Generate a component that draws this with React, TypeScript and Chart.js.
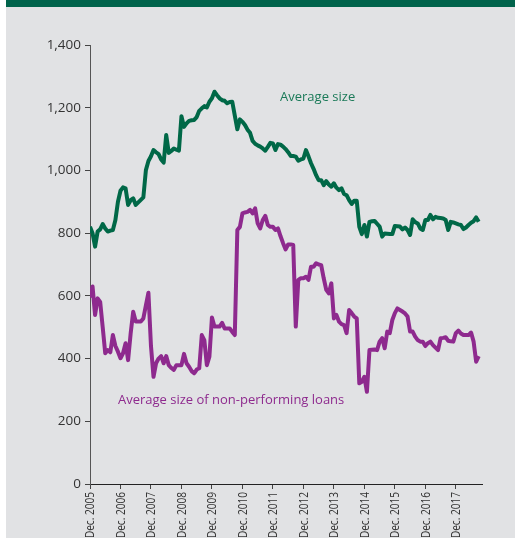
import React, { useEffect, useRef } from "react";
import { Chart, registerables } from "chart.js";

Chart.register(...registerables);

// Month index 0 = Dec. 2005, monthly through Sep. 2018
const tickLabels = [
  "Dec. 2005", "Dec. 2006", "Dec. 2007", "Dec. 2008", "Dec. 2009", "Dec. 2010",
  "Dec. 2011", "Dec. 2012", "Dec. 2013", "Dec. 2014", "Dec. 2015", "Dec. 2016", "Dec. 2017",
];

const averageSize = [
  820, 800, 757, 805, 812, 829, 815, 805, 808, 810, 842, 900,
  935, 946, 943, 890, 905, 911, 890, 898, 906, 914, 1001, 1030,
  1045, 1065, 1058, 1052, 1035, 1025, 1113, 1056, 1062, 1070, 1066, 1063,
  1173, 1139, 1150, 1158, 1160, 1161, 1170, 1190, 1198, 1205, 1201, 1219,
  1230, 1251, 1240, 1230, 1224, 1222, 1214, 1218, 1219, 1175, 1131, 1163,
  1155, 1145, 1130, 1120, 1094, 1085, 1080, 1076, 1070, 1063, 1075, 1088,
  1086, 1065, 1084, 1082, 1076, 1068, 1058, 1046, 1046, 1044, 1031, 1035,
  1038, 1065, 1045, 1023, 1005, 985, 969, 969, 953, 966, 955, 948,
  959, 945, 937, 943, 925, 921, 905, 893, 903, 903, 820, 797,
  826, 789, 836, 838, 839, 830, 821, 789, 799, 798, 797, 797,
  823, 822, 821, 812, 818, 810, 794, 844, 835, 831, 815, 810,
  842, 842, 858, 844, 852, 849, 848, 847, 842, 810, 836, 834,
  831, 828, 826, 813, 818, 826, 833, 838, 850, 836,
];

const averageSizeNPL = [
  595, 630, 539, 592, 581, 500, 417, 427, 420, 475, 440, 422,
  401, 417, 449, 395, 480, 549, 518, 518, 518, 528, 570, 610,
  440, 342, 385, 400, 408, 385, 408, 379, 370, 364, 379, 379,
  379, 415, 385, 374, 360, 353, 365, 369, 475, 459, 379, 406,
  531, 502, 502, 502, 514, 496, 496, 496, 485, 475, 810, 820,
  863, 866, 868, 874, 863, 879, 831, 815, 842, 855, 826, 820,
  820, 810, 815, 790, 768, 748, 764, 764, 762, 502, 651, 656,
  656, 661, 651, 693, 693, 704, 700, 698, 656, 619, 608, 640,
  528, 539, 518, 510, 507, 481, 555, 545, 534, 528, 321, 326,
  342, 294, 427, 428, 429, 427, 454, 465, 433, 486, 481, 523,
  545, 560, 555, 550, 544, 534, 486, 486, 470, 459, 454, 454,
  440, 449, 454, 443, 435, 427, 465, 466, 468, 457, 455, 454,
  481, 489, 480, 475, 475, 475, 483, 454, 390, 408,
];

const seriesNames = ["Average size", "Average size of non-performing loans"];
const yTicks = [0, 200, 400, 600, 800, 1000, 1200, 1400];

const GREEN = "#006847";
const PURPLE = "#8e2a8e";
const FONT = "'Open Sans', 'Noto Sans', sans-serif";

const labelPlugin = {
  id: "seriesLabels",
  afterDatasetsDraw(chart: any) {
    const { ctx, scales } = chart;
    const xs = scales.x;
    const ys = scales.y;
    ctx.save();
    ctx.font = `13px ${FONT}`;
    ctx.textBaseline = "middle";
    ctx.textAlign = "left";
    ctx.fillStyle = "#1b7a58";
    ctx.fillText(seriesNames[0], xs.getPixelForValue(74.8), ys.getPixelForValue(1233));
    ctx.fillStyle = PURPLE;
    ctx.fillText(seriesNames[1], xs.getPixelForValue(11), ys.getPixelForValue(267));
    ctx.restore();
  },
};

// Condensed, rotated x tick labels drawn at the library's tick positions
const xLabelPlugin = {
  id: "condensedXLabels",
  afterDraw(chart: any) {
    const { ctx, scales, chartArea } = chart;
    const xs = scales.x;
    ctx.save();
    ctx.font = `12px ${FONT}`;
    ctx.fillStyle = "#333";
    ctx.textAlign = "right";
    ctx.textBaseline = "middle";
    xs.ticks.forEach((t: any, i: number) => {
      const px = xs.getPixelForValue(t.value);
      ctx.save();
      ctx.translate(px + 1, chartArea.bottom + 8);
      ctx.rotate(-Math.PI / 2);
      ctx.scale(0.84, 1);
      ctx.fillText(tickLabels[i] ?? "", 0, 0);
      ctx.restore();
    });
    ctx.restore();
  },
};

export default function App() {
  const ref = useRef<HTMLCanvasElement | null>(null);
  useEffect(() => {
    if (!ref.current) return;
    const toPts = (arr: number[]) => arr.map((v, i) => ({ x: i, y: v }));
    const chart = new Chart(ref.current, {
      type: "line",
      data: {
        datasets: [
          {
            label: seriesNames[0],
            data: toPts(averageSize),
            borderColor: GREEN,
            borderWidth: 4,
            pointRadius: 0,
            tension: 0,
            borderJoinStyle: "round",
          },
          {
            label: seriesNames[1],
            data: toPts(averageSizeNPL),
            borderColor: PURPLE,
            borderWidth: 4,
            pointRadius: 0,
            tension: 0,
            borderJoinStyle: "round",
          },
        ],
      },
      options: {
        animation: false,
        responsive: false,
        maintainAspectRatio: false,
        layout: { padding: { top: 45, right: 33, left: 0, bottom: 0 } },
        plugins: { legend: { display: false }, tooltip: { enabled: false } },
        scales: {
          x: {
            type: "linear",
            min: 0,
            max: 154.3,
            afterFit: (s: any) => { s.height = 54; },
            afterBuildTicks: (s: any) => {
              s.ticks = tickLabels.map((_, i) => ({ value: i * 12 }));
            },
            ticks: {
              display: false,
              autoSkip: false,
            },
            grid: { drawOnChartArea: false, drawTicks: true, tickLength: 5, color: "#444", lineWidth: 1 },
            border: { display: true, color: "#222", width: 1 },
          },
          y: {
            min: 0,
            max: 1400,
            afterFit: (s: any) => { s.width = 90; },
            afterBuildTicks: (s: any) => {
              s.ticks = yTicks.map((v) => ({ value: v }));
            },
            ticks: {
              padding: 4,
              color: "#333",
              font: { family: FONT, size: 13.5 },
              callback: (v: any) => Number(v).toLocaleString("en-US"),
            },
            grid: { drawOnChartArea: false, drawTicks: true, tickLength: 5, color: "#444", lineWidth: 1 },
            border: { display: true, color: "#555", width: 1 },
          },
        },
      },
      plugins: [labelPlugin, xLabelPlugin],
    } as any);
    return () => chart.destroy();
  }, []);

  return (
    <div style={{ position: "fixed", left: 0, top: 0, width: 515, height: 538, background: "#ffffff", overflow: "hidden" }}>
      <div style={{ position: "absolute", left: 6, top: 0, right: 0, bottom: 0, background: "#e1e2e4" }} />
      <div style={{ position: "absolute", left: 6, top: 0, right: 0, height: 7, background: "#00634b" }} />
      <canvas ref={ref} width={515} height={538} style={{ position: "absolute", left: 0, top: 0, width: 515, height: 538 }} />
    </div>
  );
}
